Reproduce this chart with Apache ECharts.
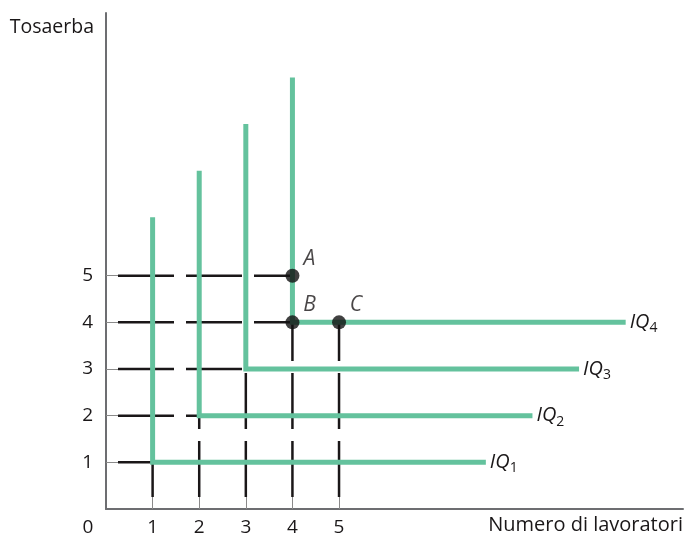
<!DOCTYPE html>
<html>
<head>
<meta charset="utf-8">
<script src="https://cdn.jsdelivr.net/npm/echarts@6/dist/echarts.min.js"></script>
<style>
  html, body { margin: 0; padding: 0; background: #fff; }
  #chart { width: 686px; height: 537px; }
</style>
</head>
<body>
<div id="chart"></div>
<script>
// isoquants IQ1..IQ4: corner at (level, level), vertical arm up to top, horizontal arm to end
const isoLevels = [1, 2, 3, 4];
const isoTops = [6.25, 7.25, 8.25, 9.25];
const isoEnds = [8.15, 9.15, 10.15, 11.15];

// labelled points
const pointNames = ['A', 'B', 'C'];
const pointX = [4, 4, 5];
const pointY = [5, 4, 4];

// dashed guides: horizontal from y axis to [xEnd, y], vertical from x axis to [x, yEnd]
const hGuides = [[1, 1], [2, 2], [3, 3], [4, 4], [4, 5]];
const vGuides = [[1, 1], [2, 2], [3, 3], [4, 4], [5, 4]];

const tickLabels = [0, 1, 2, 3, 4, 5];
const tickMarks = [1, 2, 3, 4, 5];

const green = '#64c29d';
const ink = '#1a1718';
const axisGray = '#6d6e71';
const font = 'Open Sans';

const chart = echarts.init(document.getElementById('chart'));

const series = [];

hGuides.forEach(([xe, y]) => {
  series.push({
    type: 'line',
    data: [[0, y], [xe, y]],
    symbol: 'none',
    silent: true,
    z: 2,
    lineStyle: { color: ink, width: 2.5, type: [56, 12], dashOffset: 56 },
  });
});

vGuides.forEach(([x, ye]) => {
  series.push({
    type: 'line',
    data: [[x, 0], [x, ye]],
    symbol: 'none',
    silent: true,
    z: 2,
    lineStyle: { color: ink, width: 2.5, type: [56, 12], dashOffset: 56 },
  });
});

isoLevels.forEach((k, i) => {
  series.push({
    type: 'line',
    data: [[k, isoTops[i]], [k, k], [isoEnds[i], k]],
    symbol: 'none',
    silent: true,
    z: 3,
    lineStyle: { color: green, width: 5, cap: 'butt', join: 'miter' },
    endLabel: {
      show: true,
      distance: 4,
      formatter: '{i|IQ}{s|' + k + '}',
      rich: {
        i: { fontFamily: font, fontStyle: 'italic', fontSize: 20, color: ink },
        s: { fontFamily: font, fontSize: 14, color: ink, verticalAlign: 'bottom', padding: [12, 0, 0, 0] },
      },
    },
  });
});

series.push({
  type: 'scatter',
  data: pointNames.map((n, i) => ({ name: n, value: [pointX[i], pointY[i]] })),
  symbolSize: 14,
  itemStyle: { color: '#111' },
  z: 5,
  label: {
    show: true,
    position: 'inside',
    offset: [17, -17],
    formatter: '{b}',
    fontFamily: font,
    fontStyle: 'italic',
    fontSize: 21,
    color: ink,
  },
});

chart.setOption({
  animation: false,
  grid: { left: 106, right: 3, top: 13, bottom: 27, containLabel: false },
  xAxis: {
    type: 'value',
    min: 0,
    max: 12.38,
    interval: 1,
    name: 'Numero di lavoratori',
    nameLocation: 'end',
    nameGap: 0,
    nameTextStyle: {
      fontFamily: font, fontSize: 20, color: ink,
      align: 'right', verticalAlign: 'top', padding: [6, 0, 0, 0],
    },
    splitLine: { show: false },
    axisLine: { show: true, lineStyle: { color: axisGray, width: 2 } },
    axisTick: { show: true, inside: true, length: 16, customValues: tickMarks, lineStyle: { color: '#8a8a8a', width: 1 } },
    axisLabel: {
      customValues: tickLabels,
      margin: 9,
      fontFamily: font,
      fontSize: 19,
      color: ink,
      formatter: v => (v === 0 ? '{z|0}' : String(v)),
      rich: { z: { fontFamily: font, fontSize: 19, color: ink, padding: [0, 36, 0, 0] } },
    },
  },
  yAxis: {
    type: 'value',
    min: 0,
    max: 10.63,
    interval: 1,
    name: 'Tosaerba',
    nameLocation: 'end',
    nameGap: -14,
    nameTextStyle: {
      fontFamily: font, fontSize: 19.5, color: ink,
      align: 'right', verticalAlign: 'middle', padding: [0, 12, 0, 0],
    },
    splitLine: { show: false },
    axisLine: { show: true, lineStyle: { color: axisGray, width: 2 } },
    axisTick: { show: true, inside: true, length: 16, customValues: tickMarks, lineStyle: { color: '#8a8a8a', width: 1 } },
    axisLabel: {
      customValues: tickMarks,
      margin: 13,
      fontFamily: font,
      fontSize: 19,
      color: ink,
    },
  },
  series: series,
});
</script>
</body>
</html>
